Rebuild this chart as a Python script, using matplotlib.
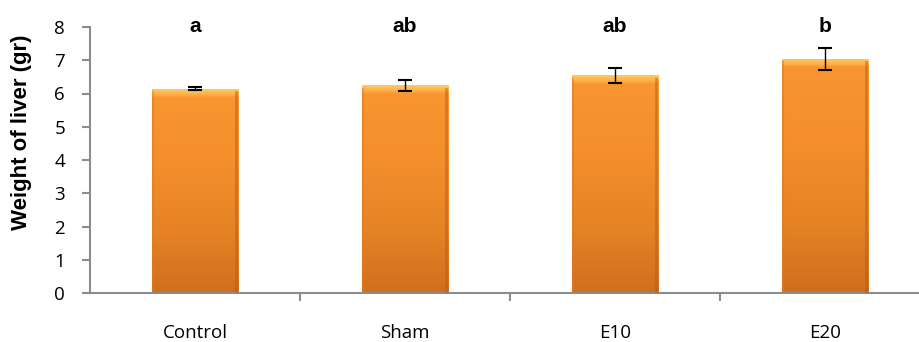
import numpy as np
import matplotlib.pyplot as plt
from matplotlib.colors import LinearSegmentedColormap

groups = ['Control', 'Sham', 'E10', 'E20']
weights = [6.15, 6.25, 6.55, 7.05]
errors = [0.05, 0.17, 0.22, 0.33]
letters = ['a', 'ab', 'ab', 'b']

plt.rcParams['font.family'] = ['Open Sans', 'DejaVu Sans']

fig = plt.figure(figsize=(9.19, 3.42), dpi=100)
ax = fig.add_axes([90 / 919, 49 / 342, 829 / 919, 266 / 342])

x = np.arange(len(groups))
width = 0.41
bars = ax.bar(x, weights, width=width, color='#F28C28', edgecolor='none', zorder=2)

# vertical shading in each bar: darker at the base, light bevel on top
cmap = LinearSegmentedColormap.from_list(
    'orng', [(0, '#D06E1F'), (0.3, '#E58325'), (0.65, '#F48F2C'),
             (0.96, '#F99630'), (0.975, '#FDB04A'), (1, '#FFC862')])
for b in bars:
    x0, y0 = b.get_x(), b.get_y()
    w, h = b.get_width(), b.get_height()
    yy = np.linspace(0, h, 256)
    g = np.where(yy < h - 0.25, yy / (h - 0.25) * 0.96,
                 0.96 + (yy - (h - 0.25)) / 0.25 * 0.04)
    im = ax.imshow(g.reshape(-1, 1), cmap=cmap, origin='lower', aspect='auto',
                   extent=[x0, x0 + w, y0, y0 + h], zorder=2, vmin=0, vmax=1)
    im.set_clip_path(b)
    # darker side edges
    ax.plot([x0 + w - 0.008, x0 + w - 0.008], [0, h - 0.1], color='#B45E1A', lw=2, alpha=0.5, zorder=3)
    ax.plot([x0 + 0.006, x0 + 0.006], [0, h - 0.1], color='#E07A22', lw=1.5, alpha=0.5, zorder=3)

ax.errorbar(x, weights, yerr=errors, fmt='none', ecolor='black', elinewidth=1,
            capsize=5, capthick=1.5, zorder=4)

for xi, lab in zip(x, letters):
    ax.text(xi, 8.0, lab, ha='center', va='center', fontsize=15, fontweight='bold',
            family=['Liberation Sans'], clip_on=False)

ax.set_xlim(-0.5, -0.5 + 829 / 210)
ax.set_ylim(0, 8)
ax.set_yticks(range(0, 9))
ax.tick_params(axis='y', direction='out', length=6, width=1.5, color='#8C8C8C',
               labelsize=13.5, pad=12)
ax.set_xticks(x)
ax.set_xticklabels(groups)
ax.tick_params(axis='x', length=0, labelsize=13.5, pad=22)
ax.set_xticks([0.5, 1.5, 2.5], minor=True)
ax.tick_params(axis='x', which='minor', direction='out', length=6, width=1.5, color='#8C8C8C')

for s in ['top', 'right']:
    ax.spines[s].set_visible(False)
for s in ['left', 'bottom']:
    ax.spines[s].set_color('#8C8C8C')
    ax.spines[s].set_linewidth(1.5)

ax.set_ylabel('Weight of liver (gr)', fontsize=16, fontweight='bold',
              family=['Liberation Sans'])
ax.yaxis.set_label_coords(-58 / 829, 0.605)

fig.savefig('out.png', dpi=100)
